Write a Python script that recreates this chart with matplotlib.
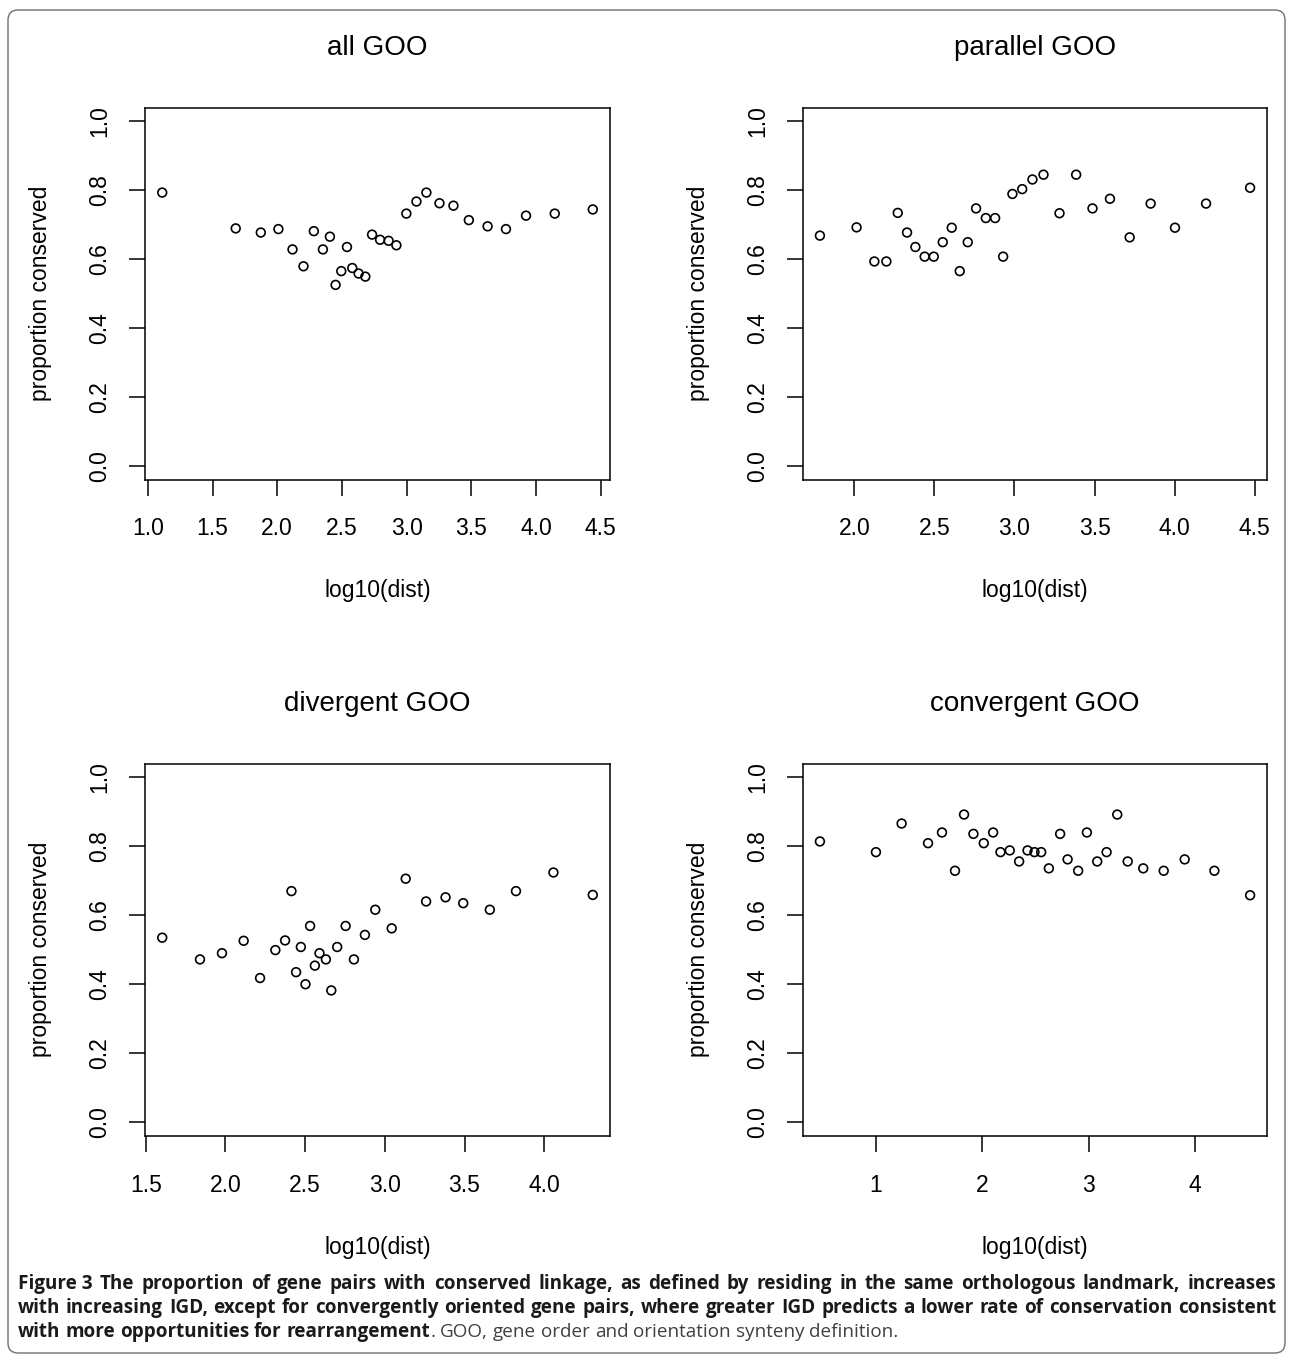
import matplotlib
matplotlib.use("Agg")
from matplotlib import pyplot as plt
from matplotlib.patches import FancyBboxPatch
from matplotlib.transforms import IdentityTransform

# values
all_x = [1.111, 1.679, 1.873, 2.009, 2.118, 2.203, 2.283, 2.353, 2.407, 2.451,
         2.495, 2.539, 2.580, 2.629, 2.681, 2.733, 2.795, 2.861, 2.921, 2.998,
         3.076, 3.153, 3.254, 3.362, 3.481, 3.626, 3.768, 3.923, 4.145, 4.439]
all_y = [0.793, 0.689, 0.677, 0.687, 0.628, 0.579, 0.681, 0.628, 0.665, 0.525,
         0.565, 0.635, 0.574, 0.558, 0.549, 0.671, 0.656, 0.653, 0.640, 0.732,
         0.767, 0.793, 0.762, 0.755, 0.713, 0.695, 0.687, 0.726, 0.732, 0.744]

par_x = [1.785, 2.014, 2.125, 2.200, 2.271, 2.329, 2.381, 2.439, 2.496, 2.552,
         2.608, 2.658, 2.708, 2.760, 2.821, 2.879, 2.929, 2.987, 3.048, 3.112,
         3.181, 3.281, 3.385, 3.487, 3.596, 3.719, 3.850, 4.002, 4.196, 4.471]
par_y = [0.668, 0.692, 0.593, 0.593, 0.734, 0.677, 0.635, 0.607, 0.607, 0.649,
         0.691, 0.565, 0.649, 0.747, 0.719, 0.719, 0.607, 0.789, 0.803, 0.831,
         0.845, 0.733, 0.845, 0.747, 0.775, 0.663, 0.761, 0.691, 0.761, 0.807]

div_x = [1.603, 1.840, 1.978, 2.114, 2.217, 2.313, 2.374, 2.414, 2.443, 2.473,
         2.502, 2.531, 2.561, 2.590, 2.630, 2.664, 2.701, 2.754, 2.806, 2.875,
         2.940, 3.043, 3.131, 3.259, 3.381, 3.492, 3.659, 3.823, 4.058, 4.305]
div_y = [0.535, 0.472, 0.490, 0.526, 0.418, 0.499, 0.527, 0.670, 0.435, 0.508,
         0.400, 0.569, 0.454, 0.490, 0.472, 0.382, 0.508, 0.569, 0.472, 0.543,
         0.616, 0.562, 0.706, 0.640, 0.652, 0.635, 0.616, 0.670, 0.724, 0.659]

conv_x = [0.477, 1.003, 1.244, 1.492, 1.623, 1.745, 1.830, 1.918, 2.015, 2.103,
          2.172, 2.259, 2.347, 2.426, 2.491, 2.554, 2.626, 2.732, 2.802, 2.901,
          2.983, 3.080, 3.168, 3.268, 3.366, 3.512, 3.704, 3.901, 4.180, 4.515]
conv_y = [0.814, 0.783, 0.866, 0.809, 0.840, 0.729, 0.892, 0.836, 0.809, 0.840,
          0.783, 0.788, 0.756, 0.788, 0.783, 0.783, 0.736, 0.836, 0.762, 0.729,
          0.840, 0.756, 0.783, 0.892, 0.756, 0.736, 0.729, 0.762, 0.729, 0.658]

titles = ["all GOO", "parallel GOO", "divergent GOO", "convergent GOO"]
xticks_list = [[1.0, 1.5, 2.0, 2.5, 3.0, 3.5, 4.0, 4.5],
               [2.0, 2.5, 3.0, 3.5, 4.0, 4.5],
               [1.5, 2.0, 2.5, 3.0, 3.5, 4.0],
               [1, 2, 3, 4]]
xfmt = ["%.1f", "%.1f", "%.1f", "%d"]
yticks = [0.0, 0.2, 0.4, 0.6, 0.8, 1.0]

caption_lines = [
    [[("Figure 3", "bold")]] + [[(w, "bold")] for w in
     ("The proportion of gene pairs with conserved linkage, as defined by "
      "residing in the same orthologous landmark, increases").split()],
    [[(w, "bold")] for w in ("with increasing IGD, except for convergently oriented gene "
                             "pairs, where greater IGD predicts a lower rate of "
                             "conservation consistent").split()],
    [[(w, "bold")] for w in "with more opportunities for".split()]
    + [[("rearrangement", "bold"), (".", "normal")]]
    + [[(w, "normal")] for w in "GOO, gene order and orientation synteny definition.".split()],
]

W, H = 1293, 1359
plt.rcParams["font.family"] = ["Liberation Sans", "DejaVu Sans"]
fig = plt.figure(figsize=(W / 100, H / 100), dpi=100)

# axes boxes in pixels: left, right, top, bottom
boxes = [(145, 610, 107.5, 479.5), (802.7, 1267.3, 107.5, 479.5),
         (145, 610, 763.5, 1136), (802.7, 1267.3, 763.5, 1136)]
data = [(all_x, all_y), (par_x, par_y), (div_x, div_y), (conv_x, conv_y)]

for i, (l, r, t, b) in enumerate(boxes):
    ax = fig.add_axes([l / W, 1 - b / H, (r - l) / W, (b - t) / H])
    x, y = data[i]
    ax.scatter(x, y, s=6.3 ** 2, facecolors="none", edgecolors="black", linewidths=1.2)
    pad = 0.04 * (max(x) - min(x))
    ax.set_xlim(min(x) - pad, max(x) + pad)
    ax.set_ylim(-0.04, 1.04)
    ax.set_xticks(xticks_list[i])
    ax.set_xticklabels([xfmt[i] % v for v in xticks_list[i]])
    ax.set_yticks(yticks)
    ax.set_yticklabels(["%.1f" % v for v in yticks])
    ax.tick_params(direction="out", length=11.3, width=1.1, labelsize=16.5)
    ax.tick_params(axis="x", pad=16)
    ax.tick_params(axis="y", labelrotation=90, pad=13)
    for lbl in ax.get_yticklabels():
        lbl.set_va("center")
    for sp in ax.spines.values():
        sp.set_linewidth(1.1)
    ax.set_title(titles[i], fontsize=20, pad=38)
    ax.set_xlabel("log10(dist)", fontsize=16.5, labelpad=28)
    ax.set_ylabel("proportion conserved", fontsize=16.5, labelpad=26)

# outer rounded frame
frame = FancyBboxPatch((8, H - 1353), 1277, 1343,
                       boxstyle="round,pad=0,rounding_size=10",
                       transform=IdentityTransform(), facecolor="none",
                       edgecolor="#707070", linewidth=1.0)
fig.add_artist(frame)

# justified caption
renderer = fig.canvas.get_renderer()
cap_font = ["Open Sans", "DejaVu Sans"]
cap_size = 13.6
colors = {"bold": "#1a1a1a", "normal": "#404040"}
x0, x1 = 18, 1276
baselines = [1289, 1313, 1337]


def piece_width(txt, weight):
    tt = fig.text(0, 0, txt, fontsize=cap_size, family=cap_font, fontweight=weight)
    w = tt.get_window_extent(renderer).width
    tt.remove()
    return w


space_w = piece_width("a a", "bold") - 2 * piece_width("a", "bold")
for li, line in enumerate(caption_lines):
    widths = [[piece_width(txt, wt) for txt, wt in word] for word in line]
    total = sum(sum(w) for w in widths)
    if li < len(caption_lines) - 1:
        gap = (x1 - x0 - total) / (len(line) - 1)
    else:
        gap = space_w
    xp = x0
    for word, ws in zip(line, widths):
        for (txt, wt), w in zip(word, ws):
            fig.text(xp / W, 1 - baselines[li] / H, txt, fontsize=cap_size,
                     family=cap_font, fontweight=wt, color=colors[wt],
                     ha="left", va="baseline")
            xp += w
        xp += gap

fig.savefig("out.png", dpi=100)
